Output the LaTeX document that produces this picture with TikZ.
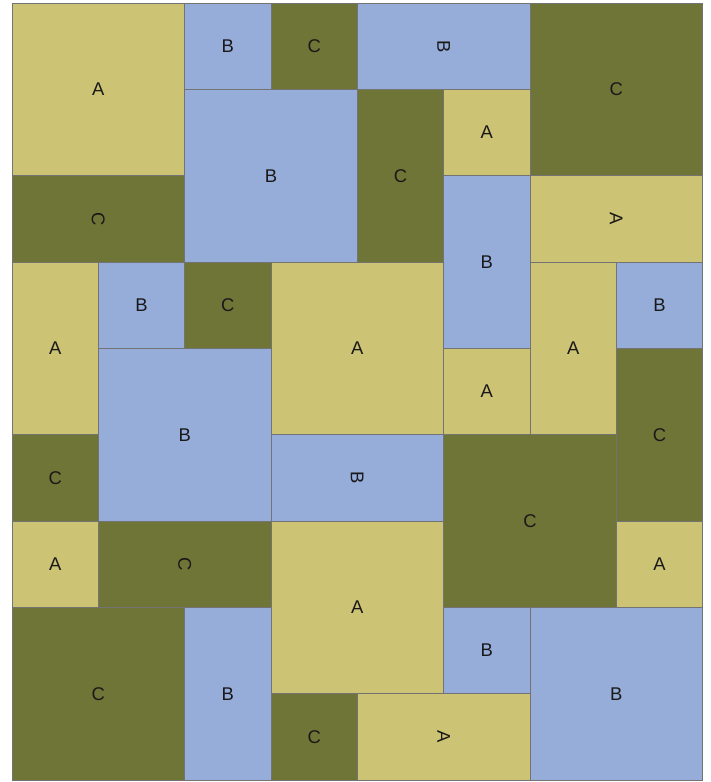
\documentclass[tikz,border=0pt]{standalone}
\usepackage{fontspec}
\setmainfont{Liberation Sans}
\usepackage{xcolor}

\definecolor{colA}{RGB}{204,195,116}
\definecolor{colB}{RGB}{150,172,217}
\definecolor{colC}{RGB}{111,117,54}

\begin{document}
\begin{tikzpicture}[
    x=86.35bp, y=-86.35bp,
    tile/.style ={draw=black!55, line width=0.7bp},
    lbl/.style  ={font=\fontsize{18.5}{20}\selectfont, text=black!90, inner sep=0pt}
]

% page margins
\useasboundingbox (-0.139,-0.035) rectangle (8.093,9.023);

% tiles: column/row/width/height/letter/label rotation
\foreach \c/\r/\w/\h/\t/\a in {
    0/0/2/2/A/0,   2/0/1/1/B/0,   3/0/1/1/C/0,   4/0/2/1/B/-90,
    6/0/2/2/C/0,   2/1/2/2/B/0,   4/1/1/2/C/0,   5/1/1/1/A/0,
    0/2/2/1/C/-90, 5/2/1/2/B/0,   6/2/2/1/A/-90, 0/3/1/2/A/0,
    1/3/1/1/B/0,   2/3/1/1/C/0,   3/3/2/2/A/0,   6/3/1/2/A/0,
    7/3/1/1/B/0,   1/4/2/2/B/0,   5/4/1/1/A/0,   7/4/1/2/C/0,
    0/5/1/1/C/0,   3/5/2/1/B/-90, 5/5/2/2/C/0,   0/6/1/1/A/0,
    1/6/2/1/C/-90, 3/6/2/2/A/0,   7/6/1/1/A/0,   0/7/2/2/C/0,
    2/7/1/2/B/0,   5/7/1/1/B/0,   6/7/2/2/B/0,   3/8/1/1/C/0,
    4/8/2/1/A/-90}
{
    \draw[tile, fill=col\t] (\c,\r) rectangle ++(\w,\h);
    \node[lbl, rotate=\a] (t\c\r) at ({\c+\w/2},{\r+\h/2}) {\t};
}

\end{tikzpicture}
\end{document}
